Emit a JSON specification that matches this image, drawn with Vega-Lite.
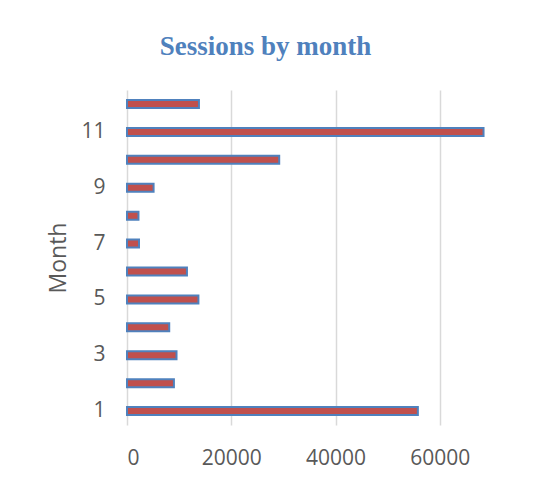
{
  "$schema": "https://vega.github.io/schema/vega-lite/v6.json",
  "autosize": "none",
  "width": 417,
  "height": 335,
  "padding": {"left": 127, "top": 90, "right": 4, "bottom": 63},
  "background": "white",
  "title": {
    "text": "Sessions by month",
    "font": "Liberation Serif",
    "fontSize": 27,
    "fontWeight": "bold",
    "color": "#4F81BD",
    "anchor": "middle",
    "dx": -70,
    "baseline": "alphabetic",
    "offset": 8
  },
  "data": {
    "values": [
      {"month": 1, "sessions": 55800},
      {"month": 2, "sessions": 9000},
      {"month": 3, "sessions": 9500},
      {"month": 4, "sessions": 8100},
      {"month": 5, "sessions": 13700},
      {"month": 6, "sessions": 11500},
      {"month": 7, "sessions": 2300},
      {"month": 8, "sessions": 2200},
      {"month": 9, "sessions": 5100},
      {"month": 10, "sessions": 29200},
      {"month": 11, "sessions": 68400},
      {"month": 12, "sessions": 13800}
    ]
  },
  "mark": {"type": "bar", "size": 8, "fill": "#C0504D", "stroke": "#4F81BD", "strokeWidth": 2},
  "encoding": {
    "y": {
      "field": "month",
      "type": "ordinal",
      "sort": "descending",
      "scale": {"paddingInner": 0, "paddingOuter": 0},
      "axis": {
        "title": "Month",
        "titleFont": "Open Sans",
        "titleFontSize": 23,
        "titleFontWeight": "normal",
        "titleColor": "#595959",
        "titlePadding": 10,
        "labelFont": "Open Sans",
        "labelFontSize": 21,
        "labelColor": "#595959",
        "labelPadding": 22,
        "labelExpr": "datum.value % 2 == 1 ? datum.label : ''",
        "ticks": false,
        "domain": false,
        "grid": false
      }
    },
    "x": {
      "field": "sessions",
      "type": "quantitative",
      "scale": {"domain": [0, 80000], "nice": false},
      "axis": {
        "title": null,
        "values": [0, 20000, 40000, 60000],
        "format": "d",
        "labelFont": "Open Sans",
        "labelFontSize": 21,
        "labelColor": "#595959",
        "labelPadding": 22,
        "ticks": false,
        "domain": false,
        "grid": true,
        "gridColor": "#D9D9D9",
        "gridWidth": 1.5
      }
    }
  },
  "config": {"view": {"stroke": null}}
}
